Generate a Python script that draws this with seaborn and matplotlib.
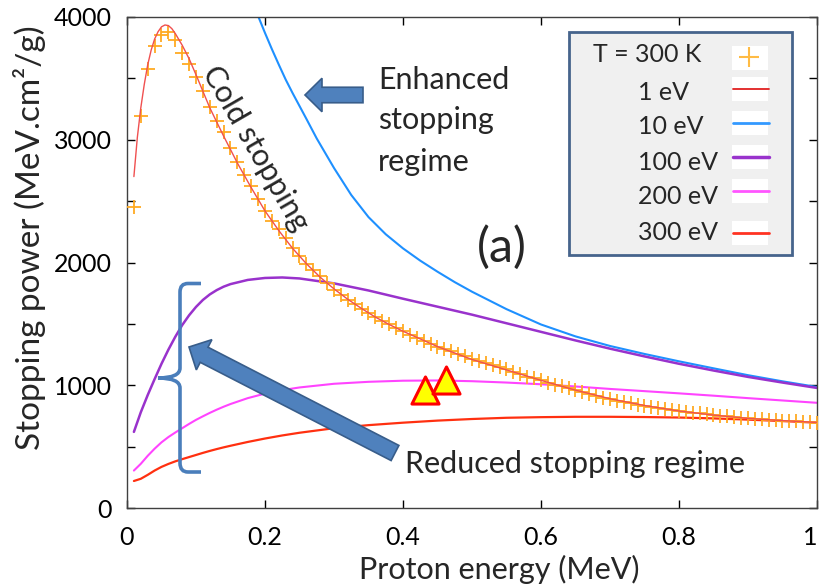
import numpy as np
import pandas as pd
import matplotlib
matplotlib.use("Agg")
import matplotlib.pyplot as plt
import seaborn as sns
from matplotlib.patches import Polygon, Rectangle, PathPatch
from matplotlib.path import Path
from matplotlib.lines import Line2D

# ---------------- data ----------------
energy_cold = np.round(np.arange(1, 101) * 0.01, 2)
sp_cold_300K = [2450, 3190, 3580, 3760, 3855, 3880, 3810, 3705, 3620, 3515,
                3400, 3270, 3150, 3060, 2930, 2820, 2710, 2620, 2520, 2420,
                2340, 2270, 2200, 2120, 2050, 1990, 1940, 1886, 1830, 1780,
                1735, 1695, 1660, 1620, 1585, 1555, 1525, 1495, 1465, 1440,
                1410, 1385, 1360, 1335, 1315, 1295, 1275, 1255, 1235, 1215,
                1195, 1180, 1165, 1150, 1130, 1110, 1090, 1070, 1055, 1040,
                1022, 1005, 990, 975, 960, 945, 930, 915, 900, 888,
                875, 864, 853, 843, 833, 823, 815, 806, 798, 790,
                783, 776, 770, 764, 758, 752, 747, 742, 737, 732,
                728, 724, 720, 716, 712, 708, 705, 702, 699, 696]

energy_1eV = [0.01, 0.015, 0.02, 0.025, 0.03, 0.035, 0.04, 0.045, 0.05, 0.055,
              0.06, 0.065, 0.07, 0.08, 0.09, 0.10, 0.12, 0.14, 0.16, 0.18,
              0.20, 0.22, 0.24, 0.26, 0.28, 0.30, 0.32, 0.34, 0.36, 0.38,
              0.40, 0.45, 0.50, 0.55, 0.60, 0.65, 0.70, 0.75, 0.80, 0.85,
              0.90, 0.95, 1.00]
sp_1eV = [2700, 3020, 3260, 3450, 3610, 3730, 3820, 3880, 3920, 3935,
          3930, 3905, 3865, 3770, 3660, 3530, 3260, 3030, 2810, 2610,
          2420, 2260, 2115, 1990, 1880, 1785, 1700, 1625, 1555, 1495,
          1440, 1315, 1210, 1125, 1040, 960, 890, 835, 790, 757,
          730, 712, 697]

energy_10eV = [0.18, 0.19, 0.20, 0.21, 0.22, 0.23, 0.24, 0.25, 0.26, 0.275,
               0.30, 0.325, 0.35, 0.375, 0.40, 0.425, 0.45, 0.475, 0.50, 0.55,
               0.60, 0.65, 0.70, 0.75, 0.80, 0.85, 0.90, 0.95, 1.00]
sp_10eV = [4150, 4008, 3870, 3738, 3612, 3490, 3380, 3275, 3170, 3010,
           2770, 2550, 2370, 2230, 2115, 2015, 1925, 1840, 1762, 1620,
           1495, 1398, 1320, 1255, 1195, 1138, 1082, 1032, 986]

energy_hot = [0.01, 0.02, 0.03, 0.04, 0.05, 0.06, 0.07, 0.08, 0.09, 0.10,
              0.11, 0.12, 0.13, 0.14, 0.15, 0.175, 0.20, 0.225, 0.25, 0.30,
              0.35, 0.40, 0.45, 0.50, 0.55, 0.60, 0.65, 0.70, 0.75, 0.80,
              0.85, 0.90, 0.95, 1.00]
sp_100eV = [620, 780, 920, 1050, 1175, 1290, 1395, 1490, 1570, 1638,
            1695, 1740, 1775, 1803, 1824, 1858, 1874, 1878, 1870, 1830,
            1772, 1705, 1640, 1575, 1505, 1435, 1365, 1298, 1235, 1175,
            1120, 1068, 1022, 978]
sp_200eV = [305, 360, 425, 483, 535, 578, 615, 650, 685, 718,
            747, 775, 801, 825, 847, 895, 932, 960, 982, 1012,
            1028, 1037, 1039, 1033, 1022, 1008, 990, 970, 952, 934,
            915, 895, 876, 857]
sp_300eV = [220, 238, 270, 305, 335, 359, 380, 398, 415, 432,
            449, 465, 480, 494, 507, 538, 566, 591, 613, 650,
            675, 695, 712, 725, 735, 740, 743, 743, 741, 737,
            730, 720, 708, 695]

triangle_energy = [0.432, 0.462]
triangle_sp = [959, 1045]

legend_labels = ["T = 300 K", "1 eV", "10 eV", "100 eV", "200 eV", "300 eV"]

# ---------------- style ----------------
sns.set_theme(style="ticks")
plt.rcParams['font.family'] = ['Lato', 'DejaVu Sans']
plt.rcParams['axes.unicode_minus'] = False

C_COLD = "#ffaa22"
C_1 = "#f05050"
C_10 = "#1e90ff"
C_100 = "#9932cc"
C_200 = "#ff44ff"
C_300 = "#ff3010"
C_ARROW = "#4f81bd"
C_ARROW_EDGE = "#385d8a"

fig = plt.figure(figsize=(8.2, 5.87), dpi=100)
ax = fig.add_axes([127 / 820, 79 / 587, 690 / 820, 491 / 587])

# ---------------- data marks ----------------
sns.lineplot(x=energy_10eV, y=sp_10eV, ax=ax, color=C_10, lw=1.5, legend=False, zorder=2)
sns.lineplot(x=energy_hot, y=sp_100eV, ax=ax, color=C_100, lw=1.8, legend=False, zorder=2)
sns.lineplot(x=energy_hot, y=sp_200eV, ax=ax, color=C_200, lw=1.5, legend=False, zorder=2)
sns.lineplot(x=energy_hot, y=sp_300eV, ax=ax, color=C_300, lw=1.6, legend=False, zorder=2)
sns.scatterplot(x=energy_cold, y=sp_cold_300K, ax=ax, marker='+', s=110,
                color=C_COLD, linewidth=1.3, legend=False, zorder=3)
sns.lineplot(x=energy_1eV, y=sp_1eV, ax=ax, color=C_1, lw=1.0, legend=False, zorder=4)
sns.scatterplot(x=triangle_energy, y=triangle_sp, ax=ax, marker='^', s=380,
                color="#ffff00", edgecolor="#ff0000", linewidth=2.2, legend=False, zorder=6)

ax.set_xlim(0, 1)
ax.set_ylim(0, 4000)
ax.set_xticks([0, 0.2, 0.4, 0.6, 0.8, 1.0])
ax.set_xticklabels(["0", "0.2", "0.4", "0.6", "0.8", "1"])
ax.get_xticklabels()[-1].set_ha('right')
ax.set_yticks(np.arange(0, 4001, 500))
ax.set_yticklabels([str(v) if v % 1000 == 0 else "" for v in range(0, 4001, 500)])
ax.tick_params(direction='in', length=6, width=1, top=True, right=True,
               labelsize=18, colors='#000000')
ax.tick_params(axis='x', pad=13)
ax.tick_params(axis='y', pad=11)
for sp in ax.spines.values():
    sp.set_linewidth(1.0)
    sp.set_color('#404040')

ax.set_xlabel("Proton energy (MeV)", fontsize=22)
ax.set_ylabel("Stopping power (MeV.cm²/g)", fontsize=24)
ax.xaxis.label.set_va('center')
ax.yaxis.label.set_va('center')
ax.xaxis.set_label_coords(0.54, -0.126)
ax.yaxis.set_label_coords(-0.142, 0.55)


# ---------------- annotations (reference pixel -> axes fraction) ----------------
def P(px, py):
    return ((px - 127) / 690.0, (508 - py) / 491.0)


def block_arrow(tail, tip, shaft_w, head_w, head_l):
    t = np.array(tail, float)
    h = np.array(tip, float)
    d = h - t
    u = d / np.hypot(*d)
    n = np.array([-u[1], u[0]])
    b = h - u * head_l
    pts = [t + n * shaft_w / 2, b + n * shaft_w / 2, b + n * head_w / 2, h,
           b - n * head_w / 2, b - n * shaft_w / 2, t - n * shaft_w / 2]
    poly = Polygon([P(*p) for p in pts], closed=True, transform=ax.transAxes,
                   facecolor=C_ARROW, edgecolor=C_ARROW_EDGE, lw=1.2, zorder=7,
                   clip_on=False)
    ax.add_patch(poly)


block_arrow((363, 95), (305, 95), 15.5, 33.5, 17)
block_arrow((395, 453), (189, 347), 17, 34, 17)

# curly brace
brace_px = [(201, 283.5), (188, 283.5), (180, 283.5), (180, 292), (180, 368),
            (180, 378), (158, 378), (180, 378), (180, 388), (180, 463),
            (180, 472), (188, 472), (201, 472)]
codes = [Path.MOVETO, Path.LINETO, Path.CURVE3, Path.CURVE3, Path.LINETO,
         Path.CURVE3, Path.CURVE3, Path.CURVE3, Path.CURVE3, Path.LINETO,
         Path.CURVE3, Path.CURVE3, Path.LINETO]
ax.add_patch(PathPatch(Path([P(*p) for p in brace_px], codes), transform=ax.transAxes,
                       facecolor='none', edgecolor="#4a7ebb", lw=2.6, zorder=7,
                       capstyle='butt'))

ax.text(*P(255.5, 148.5), "Cold stopping", transform=ax.transAxes, rotation=-60,
        rotation_mode='anchor', ha='center', va='center', fontsize=22, zorder=8)
for line, base in zip(["Enhanced", "stopping", "regime"], [89, 129, 171]):
    ax.text(*P(378, base), line, transform=ax.transAxes, ha='left', va='baseline',
            fontsize=22, zorder=8)
ax.text(*P(477, 262), "(a)", transform=ax.transAxes, ha='left', va='baseline',
        fontsize=35, zorder=8)
ax.text(*P(405, 473), "Reduced stopping regime", transform=ax.transAxes, ha='left',
        va='baseline', fontsize=22, zorder=8)

# ---------------- legend box ----------------
x0, y0 = P(569, 255)
x1, y1 = P(792, 32)
ax.add_patch(Rectangle((x0, y0), x1 - x0, y1 - y0, transform=ax.transAxes,
                       facecolor="#f0f0f0", edgecolor="#46648c", lw=2.0, zorder=9))
text_pos = [(593, 55), (638, 92), (638, 126), (638, 162), (638, 197), (638, 232)]
sample_y = [58, 89, 123, 157, 191, 233]
sample_col = [C_COLD, "#e02020", "#3399ff", "#9933cc", "#ff55ff", "#ff3322"]
sample_lw = [1.5, 1.3, 2.0, 2.5, 2.0, 2.0]
for i, lab in enumerate(legend_labels):
    ax.text(*P(*text_pos[i]), lab, transform=ax.transAxes, ha='left', va='center',
            fontsize=18, zorder=11)
    bx0, by0 = P(732, sample_y[i] + 12)
    bx1, by1 = P(768, sample_y[i] - 12)
    ax.add_patch(Rectangle((bx0, by0), bx1 - bx0, by1 - by0, transform=ax.transAxes,
                           facecolor='white', edgecolor='none', zorder=10))
    if i == 0:
        ax.add_line(Line2D([P(749, 57)[0]], [P(749, 57)[1]], transform=ax.transAxes,
                           marker='+', markersize=14, mew=1.5, color="#ffbb44",
                           linestyle='none', zorder=11))
    else:
        lx0, ly = P(733, sample_y[i])
        lx1, _ = P(769, sample_y[i])
        ax.add_line(Line2D([lx0, lx1], [ly, ly], transform=ax.transAxes,
                           color=sample_col[i], lw=sample_lw[i], zorder=11))

fig.savefig("out.png", dpi=100)
